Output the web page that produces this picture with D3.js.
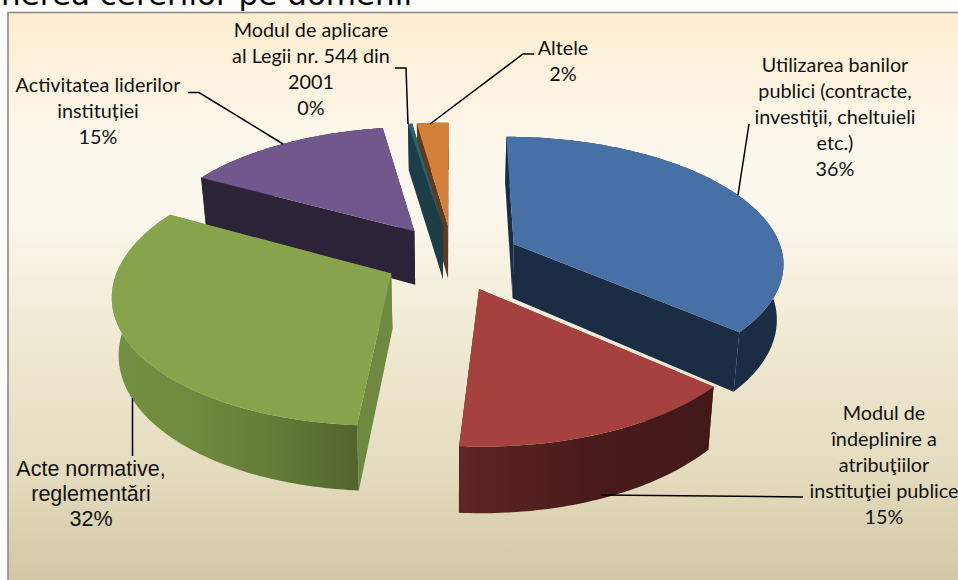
<!DOCTYPE html>
<html><head><meta charset="utf-8">
<script src="https://cdn.jsdelivr.net/npm/d3@7/dist/d3.min.js"></script>
<style>html,body{margin:0;padding:0;background:#fff;overflow:hidden}svg{display:block}</style>
</head><body><svg id="c" width="958" height="580"></svg>
<script>
// ---- data ----
const categories = ["Utilizarea banilor publici (contracte, investiţii, cheltuieli etc.)",
  "Modul de îndeplinire a atribuţiilor instituţiei publice",
  "Acte normative, reglementări",
  "Activitatea liderilor instituției",
  "Modul de aplicare al Legii nr. 544 din 2001",
  "Altele"];
const values = [36.4, 14.7, 31.9, 14.5, 0.3, 2.2];
const topColors  = ["#4771a6", "#a5413f", "#87a44d", "#72578c", "#2a6474", "#d58039"];
const wallColors = ["#1b2d45", "#5b2321", "#6f8a40", "#2d2339", "#1d3d47", "#5f3a1c"];
const labelLines = [
  ["Utilizarea banilor","publici (contracte,","investiţii, cheltuieli","etc.)"],
  ["Modul de","îndeplinire a","atribuţiilor","instituţiei publice"],
  ["Acte normative,","reglementări"],
  ["Activitatea liderilor","instituției"],
  ["Modul de aplicare","al Legii nr. 544 din","2001"],
  ["Altele"]];
const titleText = "nerea cererilor pe domenii";

// ---- layout ----
const W = 958, H = 580;
const svg = d3.select("#c");
const defs = svg.append("defs");
const bg = defs.append("linearGradient").attr("id","bg").attr("x1",0).attr("x2",0).attr("y1",0).attr("y2",1);
[[0,"#feedd0"],[.2,"#fdf7ea"],[.33,"#fcf8ee"],[.55,"#f1ebd4"],[.8,"#e3dbbd"],[1,"#d2c5a0"]]
  .forEach(([o,c])=>bg.append("stop").attr("offset",o).attr("stop-color",c));

svg.append("text").attr("x",412).attr("y",4.5).attr("text-anchor","end")
  .attr("font-family","DejaVu Sans").attr("font-size",31).attr("fill","#000").text(titleText);
svg.append("rect").attr("x",8).attr("y",12.5).attr("width",W).attr("height",H)
  .attr("fill","url(#bg)").attr("stroke","#8c8c8c").attr("stroke-width",1.6);

// perspective projection of the exploded pie
const R = 270, Rt = 125.8, k = 0.14, vx = 452.5, oy = 257.5, wallH = 55;
const explodeX = 0.253, explodeY = 0.262, wallShrink = 0.02, frontLean = 2;
function project(X, Y, Z) {
  const s = 1 / (1 + k * Y);
  return [vx + X * s * (1 - wallShrink * Z) + frontLean * Math.min(Y, 0), oy - Rt * Y * s + wallH * s * Z];
}
const arcs = d3.pie().sort(null).value(d => d).startAngle(0).endAngle(2 * Math.PI)(values);

const wallGrad = (id, x1, x2, stops) => {
  const g = defs.append("linearGradient").attr("id", id).attr("gradientUnits","userSpaceOnUse")
    .attr("x1",x1).attr("x2",x2).attr("y1",0).attr("y2",0);
  stops.forEach(([o,c]) => g.append("stop").attr("offset",o).attr("stop-color",c));
  return `url(#${id})`;
};
const rimFill = [
  wallColors[0],
  wallGrad("rimRed", 458, 716, [[0,"#5f2625"],[.5,"#481b1a"],[1,"#431918"]]),
  wallGrad("rimGreen", 112, 358, [[0,"#738f42"],[.35,"#6e8a3e"],[.7,"#627a36"],[1,"#52642e"]]),
  wallColors[3], wallColors[4], wallColors[5]];

const line = d3.line();
const order = [5, 4, 3, 0, 2, 1];
const pies = svg.append("g");
order.forEach(i => {
  const a = arcs[i];
  const mid = (a.startAngle + a.endAngle) / 2;
  const ax = explodeX * Math.sin(mid), ay = explodeY * Math.cos(mid);
  const pt = (th, Z) => project(R * (ax + Math.sin(th)), ay + Math.cos(th), Z);
  const apex = Z => project(R * ax, ay, Z);
  const n = Math.max(4, Math.ceil((a.endAngle - a.startAngle) * 60));
  const ths = d3.range(n + 1).map(j => a.startAngle + (a.endAngle - a.startAngle) * j / n);
  const g = pies.append("g").attr("class", "slice").datum(categories[i]);
  const poly = (pts, fill) => g.append("path").attr("d", line(pts) + "Z").attr("fill", fill);
  // radial side walls
  poly([apex(0), pt(a.startAngle,0), pt(a.startAngle,1), apex(1)], wallColors[i]);
  poly([apex(0), pt(a.endAngle,0), pt(a.endAngle,1), apex(1)], wallColors[i]);
  // outer rim
  poly(ths.map(t => pt(t,0)).concat(ths.slice().reverse().map(t => pt(t,1))), rimFill[i]);
  // top
  poly([apex(0)].concat(ths.map(t => pt(t,0))), topColors[i]);
});

// ---- leader lines ----
const leaders = [
  [[749,124],[738,195]],
  [[601,495],[803,497]],
  [[132.5,398],[132.5,456]],
  [[188,92.5],[199,92.5],[283,144]],
  [[395,68],[406,68],[408,124]],
  [[534,54],[523,54],[430,124]]];
leaders.forEach(p => svg.append("path").attr("d", line(p)).attr("fill","none").attr("stroke","#000").attr("stroke-width",1.5));

// ---- labels ----
const labelPos = [
  {x:835, y:72, lh:26, f:"Lato", s:19.8},
  {x:884, y:420, lh:26, f:"Lato", s:19.8},
  {x:91, y:476, lh:25, f:"Liberation Sans", s:21.5},
  {x:98, y:92, lh:26, f:"Lato", s:19.8},
  {x:311, y:37, lh:26, f:"Lato", s:19.8},
  {x:563, y:55, lh:26, f:"Lato", s:19.8}];
const pct = d3.format(".0f");
labelLines.forEach((lines, i) => {
  const p = labelPos[i];
  const t = svg.append("text").attr("text-anchor","middle").attr("font-family",p.f).attr("font-size",p.s).attr("fill","#111");
  lines.concat([pct(values[i]) + "%"]).forEach((l, j) =>
    t.append("tspan").attr("x", p.x).attr("y", p.y + j * p.lh).text(l));
});
</script></body></html>
